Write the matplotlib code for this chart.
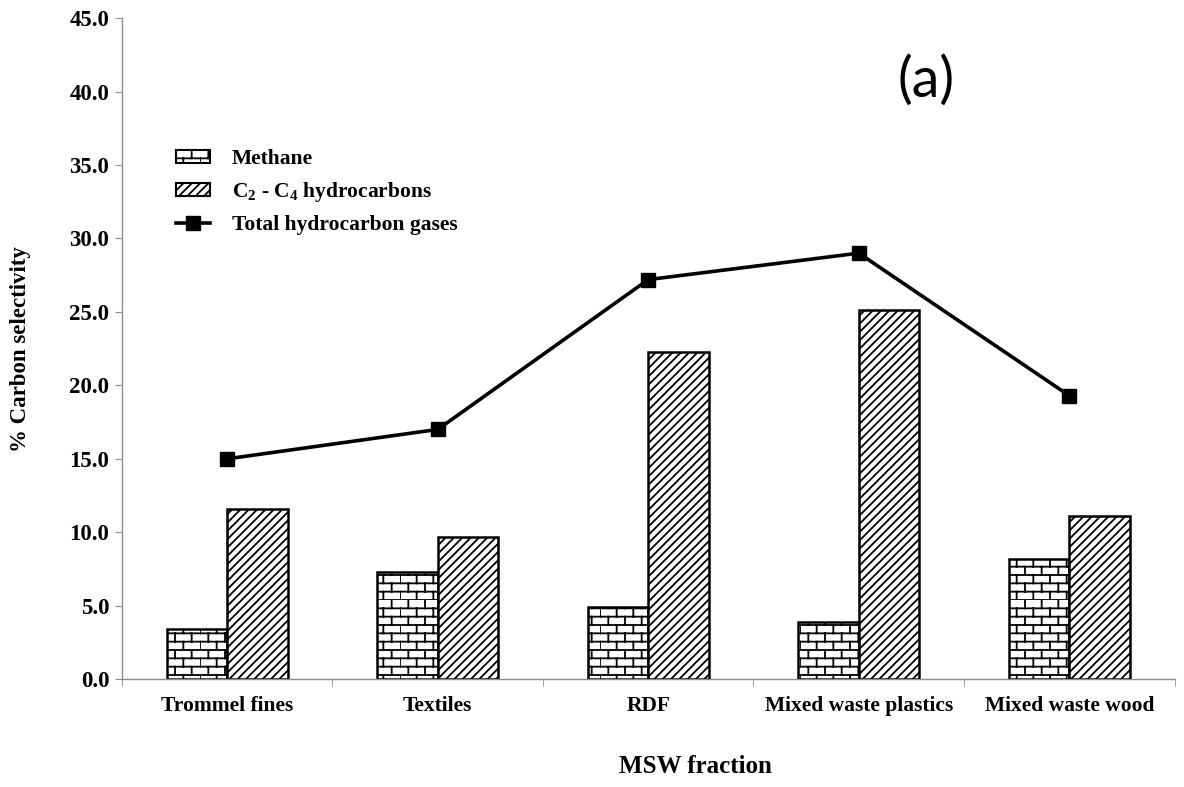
import warnings
import numpy as np
import matplotlib
matplotlib.use("Agg")
import matplotlib.pyplot as plt
import matplotlib.hatch as mhatch
from matplotlib.path import Path
from matplotlib.patches import Patch
from matplotlib.lines import Line2D

warnings.filterwarnings("ignore")

fractions = ["Trommel fines", "Textiles", "RDF", "Mixed waste plastics", "Mixed waste wood"]
methane = [3.4, 7.3, 4.9, 3.9, 8.2]
c2_c4 = [11.6, 9.7, 22.3, 25.1, 11.1]
total_gases = [15.0, 17.0, 27.2, 29.0, 19.3]
y_ticks = [0, 5, 10, 15, 20, 25, 30, 35, 40, 45]


# brick hatch ('b'): horizontal courses with staggered joints
class BrickHatch(mhatch.HatchPatternBase):
    def __init__(self, hatch, density):
        self.rows = int(hatch.count('b') * density)
        self.cols = self.rows // 2
        self.num_vertices = 2 * (self.rows + self.rows * self.cols)

    def set_vertices_and_codes(self, vertices, codes):
        h = 1.0 / self.rows
        w = 1.0 / self.cols
        segs = []
        for i in range(self.rows):
            segs.append(((0.0, i * h), (1.0, i * h)))
        for i in range(self.rows):
            shift = 0.5 * w * (i % 2)
            for j in range(self.cols):
                x = j * w + shift
                segs.append(((x, i * h), (x, (i + 1) * h)))
        vertices[:] = np.array(segs).reshape(-1, 2)
        codes[0::2] = Path.MOVETO
        codes[1::2] = Path.LINETO


mhatch._hatch_types.append(BrickHatch)

plt.rcParams['font.family'] = 'Liberation Serif'
plt.rcParams['font.weight'] = 'bold'
plt.rcParams['mathtext.default'] = 'regular'
plt.rcParams['hatch.linewidth'] = 1.3

fig = plt.figure(figsize=(11.84, 7.87), dpi=100)
ax = fig.add_axes([0.103, 0.137, 0.889, 0.840])

x = np.arange(len(fractions))
width = 0.287

ax.bar(x - width / 2, methane, width, color='white', edgecolor='black',
       linewidth=1.8, hatch='bb', label='Methane')
ax.bar(x + width / 2, c2_c4, width, color='white', edgecolor='black',
       linewidth=1.8, hatch='////', label='C$_2$ - C$_4$ hydrocarbons')
ax.plot(x, total_gases, color='black', linewidth=2.6, marker='s',
        markersize=9.5, label='Total hydrocarbon gases')

ax.set_xlim(-0.5, len(fractions) - 0.5)
ax.set_ylim(0, 45)
ax.set_yticks(y_ticks)
ax.set_yticklabels([f"{v:.1f}" for v in y_ticks])
ax.set_xticks(x)
ax.set_xticklabels(fractions)
ax.set_xticks(np.arange(len(fractions) + 1) - 0.5, minor=True)

for side in ['top', 'right']:
    ax.spines[side].set_visible(False)
for side in ['left', 'bottom']:
    ax.spines[side].set_color('#8c8c8c')
    ax.spines[side].set_linewidth(1.0)

ax.tick_params(axis='y', direction='out', length=5, color='#8c8c8c',
               labelsize=16.5, pad=4)
ax.tick_params(axis='x', which='major', length=0, labelsize=15.5, pad=12)
ax.tick_params(axis='x', which='minor', direction='out', length=5,
               color='#8c8c8c')

ax.set_xlabel('MSW fraction', fontsize=18, fontweight='bold')
ax.xaxis.set_label_coords(0.545, -0.114)
ax.set_ylabel('% Carbon selectivity', fontsize=16.5, fontweight='bold')
ax.yaxis.set_label_coords(-0.086, 0.5)

ax.text(0.782, 0.898, '(a)', transform=fig.transFigure, fontsize=40,
        fontweight='normal', family='Lato', ha='center', va='center')

handles = [
    Patch(facecolor='white', edgecolor='black', hatch='bb', linewidth=1.5),
    Patch(facecolor='white', edgecolor='black', hatch='////', linewidth=1.5),
    Line2D([], [], color='black', linewidth=2.6, marker='s', markersize=9.5),
]
labels = ['Methane', 'C$_2$ - C$_4$ hydrocarbons', 'Total hydrocarbon gases']
ax.legend(handles, labels, loc='upper left', bbox_to_anchor=(0.132, 0.835),
          bbox_transform=fig.transFigure, frameon=False, fontsize=15.5,
          handlelength=1.6, handleheight=0.6, labelspacing=0.5,
          handletextpad=1.0)

fig.savefig('out.png', dpi=100)
